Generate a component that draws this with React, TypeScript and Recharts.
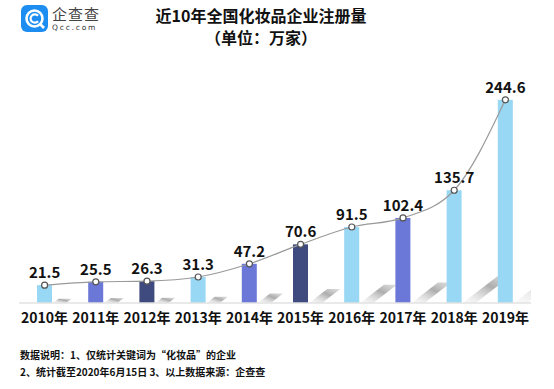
import { ComposedChart, Bar, Line, XAxis, YAxis, Cell, LabelList } from 'recharts';

const years = ['2010年', '2011年', '2012年', '2013年', '2014年', '2015年', '2016年', '2017年', '2018年', '2019年'];
const registrations = [21.5, 25.5, 26.3, 31.3, 47.2, 70.6, 91.5, 102.4, 135.7, 244.6];
const barColors = ['#98d8f4', '#6b78d8', '#3f4a7e', '#98d8f4', '#6b78d8', '#3f4a7e', '#98d8f4', '#6b78d8', '#98d8f4', '#98d8f4'];

const data = years.map((year, i) => ({ year, value: registrations[i] }));

const FONT = '"Noto Sans CJK SC", "Noto Sans", sans-serif';

// bar with a slanted floor shadow to its right
function ShadowBar(props: any) {
  const { x, y, width, height, fill } = props;
  const base = y + height;
  const rise = height * 0.24;
  const run = rise * 1.3;
  const right = x + width + 1;
  const pts = [
    [right, base],
    [right + 13, base],
    [right + 13 + run, base - rise],
    [right + run, base - rise],
  ]
    .map((p) => p.join(','))
    .join(' ');
  return (
    <g>
      <polygon points={pts} fill="url(#shadowFade)" clipPath="url(#plotClip)" />
      <rect x={x} y={y} width={width} height={height} fill={fill} />
    </g>
  );
}

function Logo() {
  return (
    <div style={{ position: 'absolute', left: 21, top: 5, display: 'flex', alignItems: 'center' }}>
      <svg width={27} height={27}>
        <rect x={0} y={0} width={27} height={27} rx={6} fill="#1d8df2" />
        <circle cx={13.5} cy={13.5} r={8} fill="none" stroke="#fff" strokeWidth={2.6} />
        <path d="M17 10.8 A4.2 4.2 0 1 0 17 16.2" fill="none" stroke="#fff" strokeWidth={2.2} />
        <line x1={18.5} y1={18.5} x2={23} y2={23} stroke="#fff" strokeWidth={2.6} />
      </svg>
      <div style={{ marginLeft: 4, lineHeight: 1 }}>
        <div style={{ fontFamily: FONT, fontSize: 15, color: '#444', letterSpacing: 1 }}>企查查</div>
        <div style={{ fontFamily: 'DejaVu Sans, sans-serif', fontSize: 7.5, color: '#333', letterSpacing: 1.8, marginTop: 3 }}>
          Qcc.com
        </div>
      </div>
    </div>
  );
}

export default function App() {
  return (
    <div style={{ position: 'absolute', left: 0, top: 0, width: 554, height: 389, background: '#fff', overflow: 'hidden' }}>
      <Logo />
      <div
        style={{
          position: 'absolute',
          left: 0,
          width: 522,
          top: 4,
          textAlign: 'center',
          fontFamily: FONT,
          fontWeight: 700,
          fontSize: 16,
          lineHeight: '22px',
          color: '#111',
        }}
      >
        <div>近10年全国化妆品企业注册量</div>
        <div>（单位：万家）</div>
      </div>

      <ComposedChart width={554} height={389} data={data} margin={{ top: 87, right: 23, left: 19, bottom: 56 }}>
        <defs>
          <linearGradient id="shadowFade" x1="0" y1="1" x2="1" y2="0">
            <stop offset="0%" stopColor="#e6e6e6" stopOpacity={0.15} />
            <stop offset="60%" stopColor="#a9a9a9" stopOpacity={0.95} />
            <stop offset="100%" stopColor="#c6c6c6" stopOpacity={0.55} />
          </linearGradient>
          <clipPath id="plotClip">
            <rect x={0} y={0} width={531} height={389} />
          </clipPath>
        </defs>
        <XAxis
          dataKey="year"
          height={30}
          tickLine={false}
          axisLine={{ stroke: '#e2e2e2', strokeWidth: 1.5 }}
          interval={0}
          tick={{ fontFamily: FONT, fontWeight: 700, fontSize: 14, fill: '#111' }}
          tickMargin={4}
        />
        <YAxis hide domain={[0, 260]} />
        <Bar dataKey="value" barSize={15} shape={<ShadowBar />} isAnimationActive={false}>
          {data.map((d, i) => (
            <Cell key={d.year} fill={barColors[i]} />
          ))}
        </Bar>
        <Line
          type="monotone"
          dataKey="value"
          stroke="#9a9a9a"
          strokeWidth={1.2}
          dot={{ r: 3, fill: '#fff', stroke: '#555', strokeWidth: 1.2 }}
          activeDot={false}
          isAnimationActive={false}
        >
          <LabelList
            dataKey="value"
            position="top"
            offset={7}
            style={{ fontFamily: FONT, fontWeight: 700, fontSize: 15, fill: '#111' }}
            formatter={(v: any) => Number(v).toFixed(1)}
          />
        </Line>
      </ComposedChart>

      <div
        style={{
          position: 'absolute',
          left: 20,
          top: 346,
          fontFamily: FONT,
          fontWeight: 700,
          fontSize: 10,
          lineHeight: '17px',
          color: '#111',
        }}
      >
        <div>数据说明：1、仅统计关键词为“化妆品”的企业</div>
        <div>2、统计截至2020年6月15日 3、以上数据来源：企查查</div>
      </div>
    </div>
  );
}
